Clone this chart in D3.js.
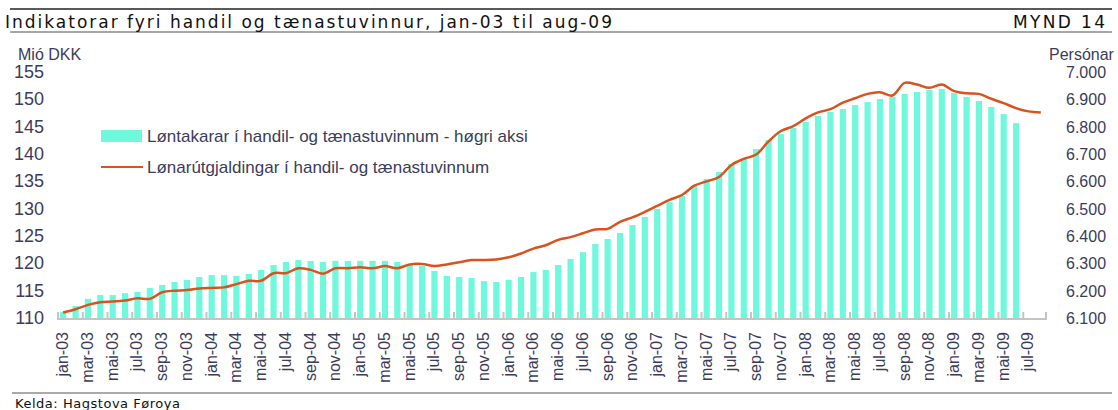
<!DOCTYPE html>
<html>
<head>
<meta charset="utf-8">
<script src="https://cdnjs.cloudflare.com/ajax/libs/d3/7.8.5/d3.min.js"></script>
<style>
  body { margin: 0; background: #fff; }
  .narrow { font-family: 'Liberation Sans Narrow', 'Arial Narrow', sans-serif; }
  .axis-text { fill: #3c3c5a; }
</style>
</head>
<body>
<div id="chart"></div>
<script>
// month names and years used for the categories
var monthNames = ["jan", "feb", "mar", "apr", "mai", "jun", "jul", "aug", "sep", "okt", "nov", "des"];
var years = ["03", "04", "05", "06", "07", "08", "09"];

// Løntakarar (persons, right axis), jan-03 .. jun-09
var employees = [6123, 6144, 6170, 6184, 6184, 6191, 6195, 6210, 6221, 6232, 6239, 6250,
  6257, 6257, 6254, 6261, 6276, 6294, 6305, 6312, 6309, 6305, 6309, 6309,
  6309, 6309, 6309, 6305, 6296, 6290, 6272, 6254, 6250, 6246, 6235, 6232,
  6239, 6250, 6268, 6276, 6294, 6316, 6341, 6371, 6389, 6411, 6440, 6470,
  6499, 6524, 6546, 6583, 6609, 6634, 6663, 6682, 6718, 6751, 6773, 6795,
  6817, 6839, 6854, 6865, 6879, 6890, 6901, 6909, 6920, 6927, 6934, 6938,
  6923, 6909, 6894, 6872, 6846, 6813];

// Lønarútgjaldingar (Mió DKK, left axis), jan-03 .. aug-09
var wages = [111.0, 111.6, 112.4, 112.9, 113.0, 113.2, 113.6, 113.5, 114.7, 115.0, 115.1, 115.4,
  115.5, 115.6, 116.2, 116.8, 116.8, 118.2, 118.2, 119.1, 118.8, 118.1, 119.1, 119.1,
  119.3, 119.1, 119.5, 119.1, 119.8, 119.9, 119.5, 119.8, 120.2, 120.6, 120.6, 120.7,
  121.1, 121.8, 122.7, 123.3, 124.3, 124.8, 125.5, 126.2, 126.3, 127.6, 128.4, 129.4,
  130.5, 131.6, 132.5, 134.2, 135.0, 135.8, 138.0, 139.1, 139.9, 142.3, 144.2, 145.1,
  146.5, 147.6, 148.2, 149.4, 150.2, 151.0, 151.3, 150.7, 153.0, 152.7, 152.1, 152.7,
  151.5, 151.1, 151.0, 150.1, 149.3, 148.4, 147.8, 147.6];

var leftTicks = [110, 115, 120, 125, 130, 135, 140, 145, 150, 155];
var rightTicks = [6100, 6200, 6300, 6400, 6500, 6600, 6700, 6800, 6900, 7000];

var categories = [];
years.forEach(function(y) {
  monthNames.forEach(function(m) {
    categories.push(m + "-" + y);
  });
});
categories = categories.slice(0, 80); // til aug-09

var W = 1118, H = 410;
var plot = { left: 57, right: 1047, top: 72, bottom: 318 };
var barColor = "#70f8dd";
var lineColor = "#d9531e";

var svg = d3.select("#chart").append("svg")
  .attr("width", W)
  .attr("height", H);

// header / footer rules
svg.append("line").attr("x1", 10).attr("x2", 1112).attr("y1", 9).attr("y2", 9)
  .attr("stroke", "#222").attr("stroke-width", 1.5);
svg.append("line").attr("x1", 10).attr("x2", 1112).attr("y1", 32).attr("y2", 32)
  .attr("stroke", "#8a8a8a").attr("stroke-width", 1.5);
svg.append("line").attr("x1", 12).attr("x2", 1112).attr("y1", 393).attr("y2", 393)
  .attr("stroke", "#555").attr("stroke-width", 1.2);

svg.append("text")
  .attr("x", 5).attr("y", 28)
  .attr("textLength", 607).attr("lengthAdjust", "spacing")
  .style("font-family", "'DejaVu Sans', sans-serif").style("font-size", "17px")
  .attr("fill", "#111")
  .text("Indikatorar fyri handil og tænastuvinnur, jan-03 til aug-09");

svg.append("text")
  .attr("x", 1105).attr("y", 28).attr("text-anchor", "end")
  .attr("textLength", 92).attr("lengthAdjust", "spacing")
  .style("font-family", "'DejaVu Sans', sans-serif").style("font-size", "17px")
  .attr("fill", "#111")
  .text("MYND 14");

svg.append("text")
  .attr("x", 15).attr("y", 408)
  .attr("textLength", 165).attr("lengthAdjust", "spacing")
  .style("font-family", "'DejaVu Sans', sans-serif").style("font-size", "13px")
  .attr("fill", "#111")
  .text("Kelda: Hagstova Føroya");

// scales
var x = d3.scaleBand()
  .domain(categories)
  .range([plot.left, plot.right])
  .paddingInner(0.5)
  .paddingOuter(0.25);

var xSlot = d3.scaleBand().domain(categories).range([plot.left, plot.right]);

var yLeft = d3.scaleLinear().domain([110, 155]).range([plot.bottom, plot.top]);
var yRight = d3.scaleLinear().domain([6100, 7000]).range([plot.bottom, plot.top]);

// bars
svg.append("g").selectAll("rect")
  .data(employees)
  .enter().append("rect")
  .attr("x", function(d, i) { return x(categories[i]); })
  .attr("y", function(d) { return yRight(d); })
  .attr("width", x.bandwidth())
  .attr("height", function(d) { return plot.bottom - yRight(d); })
  .attr("fill", barColor);

// x axis line + ticks every second month
svg.append("line")
  .attr("x1", plot.left).attr("x2", plot.right)
  .attr("y1", plot.bottom + 1).attr("y2", plot.bottom + 1)
  .attr("stroke", "#c4c4c4").attr("stroke-width", 2);

var tickCats = categories.filter(function(d, i) { return i % 2 == 0; });
svg.append("g").selectAll("line")
  .data(tickCats.concat(["end"]))
  .enter().append("line")
  .attr("x1", function(d) { return d == "end" ? plot.right - 1 : xSlot(d) + 1; })
  .attr("x2", function(d) { return d == "end" ? plot.right - 1 : xSlot(d) + 1; })
  .attr("y1", plot.bottom - 6).attr("y2", plot.bottom + 1)
  .attr("stroke", "#c4c4c4").attr("stroke-width", 2);

// x labels
svg.append("g").selectAll("text")
  .data(tickCats)
  .enter().append("text")
  .attr("class", "narrow axis-text")
  .attr("transform", function(d) {
    return "translate(" + (xSlot(d) + xSlot.bandwidth() / 2 + 5) + "," + 332 + ") rotate(-90)";
  })
  .attr("text-anchor", "end")
  .style("font-size", "16px")
  .text(function(d) { return d; });

// line
var line = d3.line()
  .x(function(d, i) { return xSlot(categories[i]) + xSlot.bandwidth() / 2; })
  .y(function(d) { return yLeft(d); })
  .curve(d3.curveCatmullRom.alpha(0.5));

svg.append("path")
  .datum(wages)
  .attr("d", line)
  .attr("fill", "none")
  .attr("stroke", lineColor)
  .attr("stroke-width", 2.5);

// left axis labels
svg.append("g").selectAll("text")
  .data(leftTicks)
  .enter().append("text")
  .attr("class", "narrow axis-text")
  .attr("x", 44)
  .attr("y", function(d) { return yLeft(d) + 6; })
  .attr("text-anchor", "end")
  .style("font-size", "18px")
  .text(function(d) { return d; });

svg.append("text")
  .attr("class", "narrow axis-text")
  .attr("x", 18).attr("y", 60)
  .style("font-size", "16px")
  .text("Mió DKK");

// right axis labels
var fmt = function(d) { return d3.format(",")(d).replace(",", "."); };
svg.append("g").selectAll("text")
  .data(rightTicks)
  .enter().append("text")
  .attr("class", "axis-text")
  .attr("x", 1066)
  .attr("y", function(d) { return yRight(d) + 6; })
  .style("font-family", "'Liberation Sans', Arial, sans-serif")
  .style("font-size", "16px")
  .text(fmt);

svg.append("text")
  .attr("class", "narrow axis-text")
  .attr("x", 1049).attr("y", 60)
  .style("font-size", "16px")
  .text("Persónar");

// legend
svg.append("rect")
  .attr("x", 101).attr("y", 130).attr("width", 41).attr("height", 12)
  .attr("fill", barColor);
svg.append("text")
  .attr("class", "narrow axis-text")
  .attr("x", 147).attr("y", 142)
  .style("font-size", "17px")
  .text("Løntakarar í handil- og tænastuvinnum - høgri aksi");

svg.append("line")
  .attr("x1", 101).attr("x2", 143).attr("y1", 167).attr("y2", 167)
  .attr("stroke", lineColor).attr("stroke-width", 2);
svg.append("text")
  .attr("class", "narrow axis-text")
  .attr("x", 147).attr("y", 173)
  .style("font-size", "17px")
  .text("Lønarútgjaldingar í handil- og tænastuvinnum");
</script>
</body>
</html>
